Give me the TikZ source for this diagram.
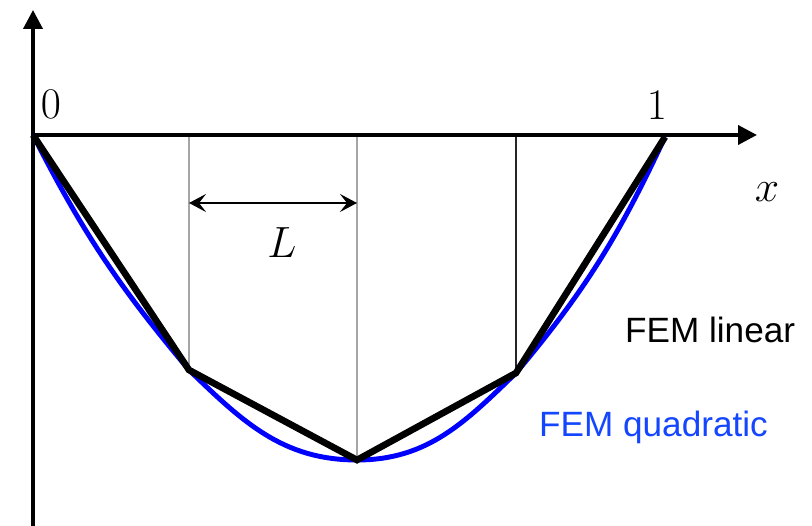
\documentclass[tikz,border=0pt]{standalone}
\usepackage{fontspec}
\newfontfamily\labelfont{Liberation Sans}
\usetikzlibrary{arrows.meta, calc}
\definecolor{quadblue}{RGB}{0,0,255}
\definecolor{quadtext}{RGB}{20,70,255}
\definecolor{guidegray}{RGB}{165,165,165}

\begin{document}
\begin{tikzpicture}[
    axis/.style={line width=2.2pt, -{Triangle[length=0.38cm, width=0.38cm]}},
    guide/.style={line width=1pt, guidegray},
    linear/.style={line width=3.8pt, black, line join=miter},
    quad/.style={line width=2.8pt, quadblue},
    dim/.style={line width=1pt, {Stealth[length=0.34cm, width=0.36cm, inset=0.14cm]}-{Stealth[length=0.34cm, width=0.36cm, inset=0.14cm]}},
    mathlbl/.style={font=\Huge},
    femlbl/.style={font=\labelfont\fontsize{20}{24}\selectfont, anchor=base west},
]
\useasboundingbox (-0.66,-7.82) rectangle (15.58,2.70);

% nodes of the mesh
\coordinate (O) at (0,0);
\coordinate (n1) at (3.12,-4.70);
\coordinate (n2) at (6.48,-6.50);
\coordinate (n3) at (9.66,-4.76);
\coordinate (n4) at (12.64,-0.04);
\coordinate (ybot) at (0,-7.82);
\coordinate (ytop) at (0,2.50);
\coordinate (xend) at (14.48,0);

% element borders
\draw[guide] (n1 |- O) -- (n1);
\draw[guide] (n2 |- O) -- (n2);
\draw[line width=0.7pt, black!85] (n3 |- O) -- (n3);

% axes
\draw[axis] (ybot) -- (ytop);
\draw[axis] (O) -- (xend);

% solutions
\draw[quad] (O) to[out=-63, in=130] (n1) to[out=-44, in=180] (n2)
    to[out=0, in=-136] (n3) to[out=50, in=-115] (n4);
\draw[linear] (O) -- (n1) -- (n2) -- (n3) -- (n4);

% element length
\coordinate (a1) at ($(n1 |- O)+(0,-1.36)$);
\coordinate (a2) at ($(n2 |- O)+(0,-1.36)$);
\draw[dim] (a1) -- (a2);
\node[mathlbl] (lbl) at (4.98,-2.16) {$L$};

\node[mathlbl] (zero) at (0.36,0.62) {$0$};
\node[mathlbl] (one) at (12.48,0.60) {$1$};
\node[mathlbl] (xlbl) at (14.68,-1.14) {$x$};

\node[femlbl] (lin) at (11.72,-4.16) {FEM linear};
\node[femlbl, text=quadtext] (quadlbl) at (10.0,-6.04) {FEM quadratic};

\end{tikzpicture}
\end{document}
